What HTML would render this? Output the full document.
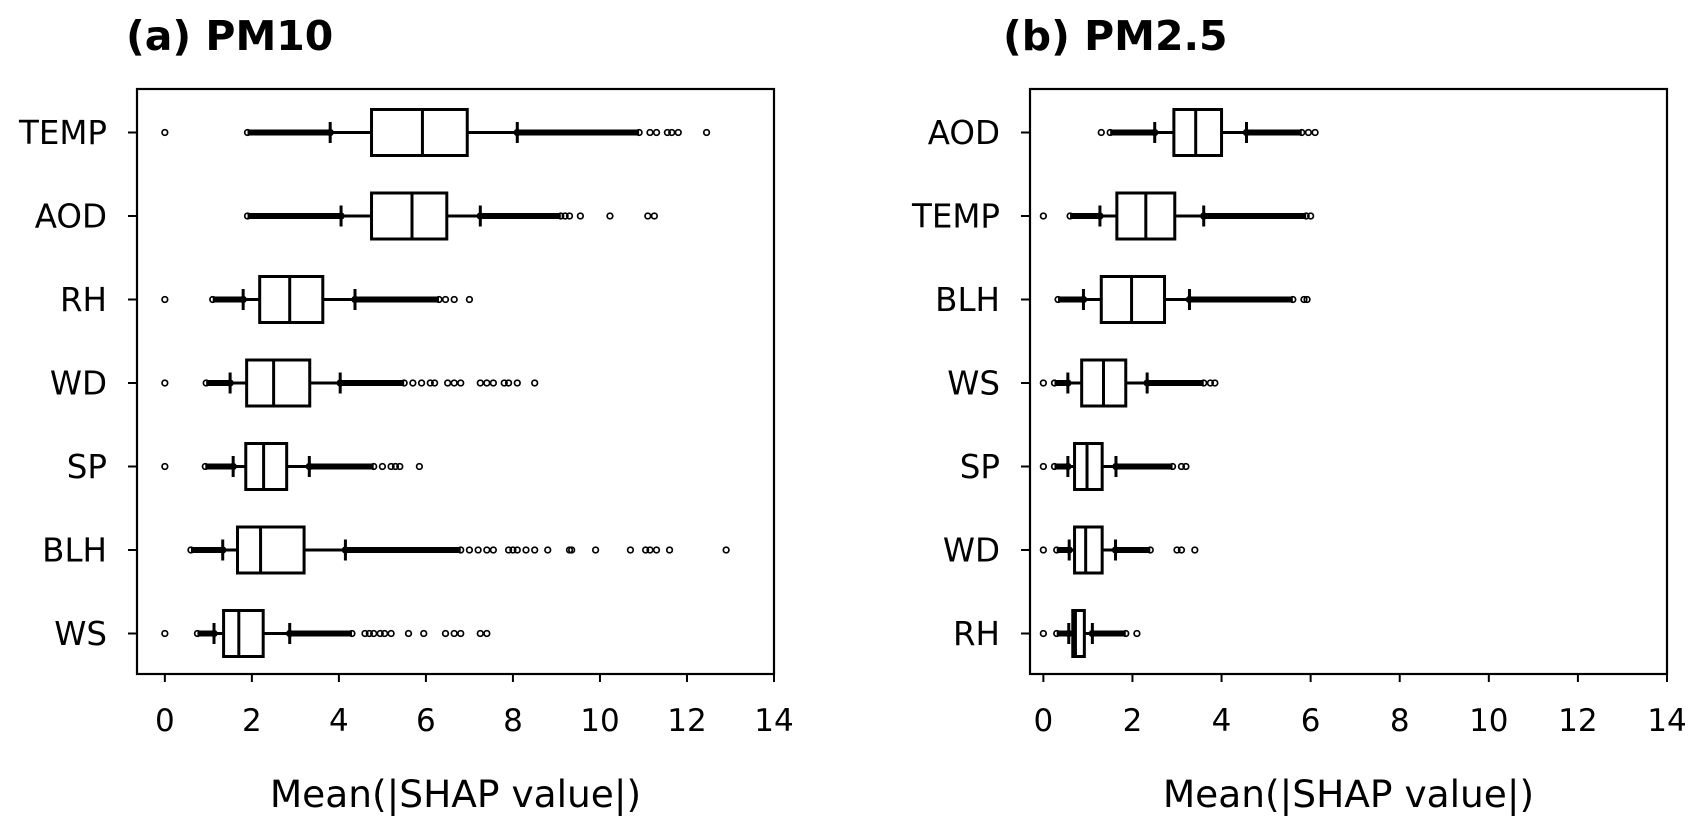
<!DOCTYPE html>
<html><head><meta charset="utf-8"><style>
html,body{margin:0;padding:0;background:#fff;}
svg{display:block;font-family:"DejaVu Sans","Liberation Sans",sans-serif;}
</style></head><body>
<svg id="chart" width="1703" height="834" viewBox="0 0 1703 834"></svg>
<script>
// ---- Panel (a) PM10 data ----
const catsA = ["TEMP","AOD","RH","WD","SP","BLH","WS"];
const whiskLoA = [3.8,4.05,1.8,1.5,1.57,1.33,1.13];
const q1A = [4.75,4.75,2.18,1.88,1.86,1.67,1.35];
const medA = [5.92,5.68,2.87,2.5,2.27,2.2,1.7];
const q3A = [6.95,6.48,3.63,3.33,2.8,3.2,2.26];
const whiskHiA = [8.1,7.25,4.37,4.03,3.32,4.15,2.87];
const denseLowA = [[1.9,3.8],[1.9,4.05],[1.1,1.8],[0.95,1.5],[0.93,1.57],[0.6,1.33],[0.75,1.13]];
const denseHighA = [[8.1,10.9],[7.25,9.1],[4.37,6.3],[4.03,5.5],[3.32,4.8],[4.15,6.8],[2.87,4.3]];
const sparseA = [[0,11.15,11.3,11.55,11.65,11.8,12.45],[9.2,9.3,9.55,10.23,11.1,11.25],[0,6.45,6.65,7.0],
 [0,5.7,5.9,6.1,6.2,6.5,6.65,6.8,7.25,7.4,7.55,7.8,7.9,8.1,8.5],[0,5.0,5.2,5.3,5.4,5.85],
 [7.0,7.2,7.4,7.55,7.9,8.0,8.1,8.3,8.5,8.8,9.3,9.35,9.9,10.7,11.05,11.15,11.3,11.6,12.9],
 [0,4.6,4.7,4.8,4.95,5.05,5.2,5.6,5.95,6.45,6.65,6.8,7.25,7.4]];
// ---- Panel (b) PM2.5 data ----
const catsB = ["AOD","TEMP","BLH","WS","SP","WD","RH"];
const whiskLoB = [2.5,1.27,0.9,0.55,0.55,0.58,0.57];
const q1B = [2.93,1.65,1.3,0.86,0.7,0.7,0.66];
const medB = [3.42,2.3,1.98,1.35,0.98,0.95,0.72];
const q3B = [4.0,2.95,2.72,1.85,1.32,1.32,0.92];
const whiskHiB = [4.56,3.6,3.28,2.33,1.63,1.62,1.1];
const denseLowB = [[1.5,2.5],[0.6,1.27],[0.33,0.9],[0.25,0.55],[0.25,0.55],[0.3,0.58],[0.3,0.57]];
const denseHighB = [[4.56,5.8],[3.6,5.9],[3.28,5.6],[2.33,3.6],[1.63,2.9],[1.62,2.4],[1.1,1.85]];
const sparseB = [[1.3,5.95,6.1],[0,6.0],[5.85,5.92],[0,3.75,3.85],[0,3.1,3.2],[0,3.0,3.1,3.4],[0,2.1]];
const xTicks = [0,2,4,6,8,10,12,14];

const svg = document.getElementById('chart');
const NS = 'http://www.w3.org/2000/svg';
function mk(tag, attrs, parent){const e=document.createElementNS(NS,tag);for(const k in attrs)e.setAttribute(k,attrs[k]);(parent||svg).appendChild(e);return e;}

function panel(p){
  const g = mk('g',{});
  
  
  const xs = v => p.x0 + (v - p.xmin) * (p.x1 - p.x0) / (14 - p.xmin);
  const rowY = i => 132.5 + i * 83.5;
  const bh = 46, cap = 21;
  const fr = mk('rect',{x:p.x0,y:89,width:p.x1-p.x0,height:585,fill:'none',stroke:'#000','stroke-width':2.2},g);
  
  
  const t = mk('text',{x:p.tx,y:50,'font-size':41,'font-weight':'bold',fill:'#000'},g);
  t.textContent = p.title;
  
  
  xTicks.forEach(v=>{
    const x = xs(v);
    mk('line',{x1:x,x2:x,y1:674,y2:682,stroke:'#000','stroke-width':2},g);
    const tl = mk('text',{x:x,y:731,'font-size':31,'text-anchor':'middle',fill:'#000'},g);
    tl.textContent = v;
    
    
  });
  const xl = mk('text',{x:(p.x0+p.x1)/2,y:807,'font-size':37.5,'text-anchor':'middle',fill:'#000'},g);
  xl.textContent = 'Mean(|SHAP value|)';
  
  
  p.cats.forEach((c,i)=>{
    const y = rowY(i);
    mk('line',{x1:p.x0-9,x2:p.x0,y1:y,y2:y,stroke:'#000','stroke-width':2},g);
    const yl = mk('text',{x:p.x0-30,y:y+11.5,'font-size':32.5,'text-anchor':'end',fill:'#000'},g);
    yl.textContent = c;
    
    
    const bg = mk('g',{},g);
    
    
    [p.dLo[i], p.dHi[i]].forEach(r=>{
      mk('line',{x1:xs(r[0]),x2:xs(r[1]),y1:y,y2:y,stroke:'#000','stroke-width':6},bg);
      mk('circle',{cx:xs(r[0]),cy:y,r:2.8,fill:'none',stroke:'#000','stroke-width':1.7},bg);
      mk('circle',{cx:xs(r[1]),cy:y,r:2.8,fill:'none',stroke:'#000','stroke-width':1.7},bg);
    });
    p.sp[i].forEach(v=>{
      mk('circle',{cx:xs(v),cy:y,r:2.8,fill:'none',stroke:'#000','stroke-width':1.7},bg);
    });
    mk('line',{x1:xs(p.wl[i]),x2:xs(p.q1[i]),y1:y,y2:y,stroke:'#000','stroke-width':3},bg);
    mk('line',{x1:xs(p.q3[i]),x2:xs(p.wh[i]),y1:y,y2:y,stroke:'#000','stroke-width':3},bg);
    mk('line',{x1:xs(p.wl[i]),x2:xs(p.wl[i]),y1:y-cap/2,y2:y+cap/2,stroke:'#000','stroke-width':3},bg);
    mk('line',{x1:xs(p.wh[i]),x2:xs(p.wh[i]),y1:y-cap/2,y2:y+cap/2,stroke:'#000','stroke-width':3},bg);
    mk('rect',{x:xs(p.q1[i]),y:y-bh/2,width:xs(p.q3[i])-xs(p.q1[i]),height:bh,fill:'#fff',stroke:'#000','stroke-width':3},bg);
    mk('line',{x1:xs(p.md[i]),x2:xs(p.md[i]),y1:y-bh/2,y2:y+bh/2,stroke:'#000','stroke-width':3},bg);
  });
}
panel({name:'panel-pm10',title:'(a) PM10',tx:126,x0:137,x1:774,xmin:-0.64,cats:catsA,wl:whiskLoA,q1:q1A,md:medA,q3:q3A,wh:whiskHiA,dLo:denseLowA,dHi:denseHighA,sp:sparseA});
panel({name:'panel-pm25',title:'(b) PM2.5',tx:1003,x0:1030,x1:1667,xmin:-0.3,cats:catsB,wl:whiskLoB,q1:q1B,md:medB,q3:q3B,wh:whiskHiB,dLo:denseLowB,dHi:denseHighB,sp:sparseB});
</script>
</body></html>
